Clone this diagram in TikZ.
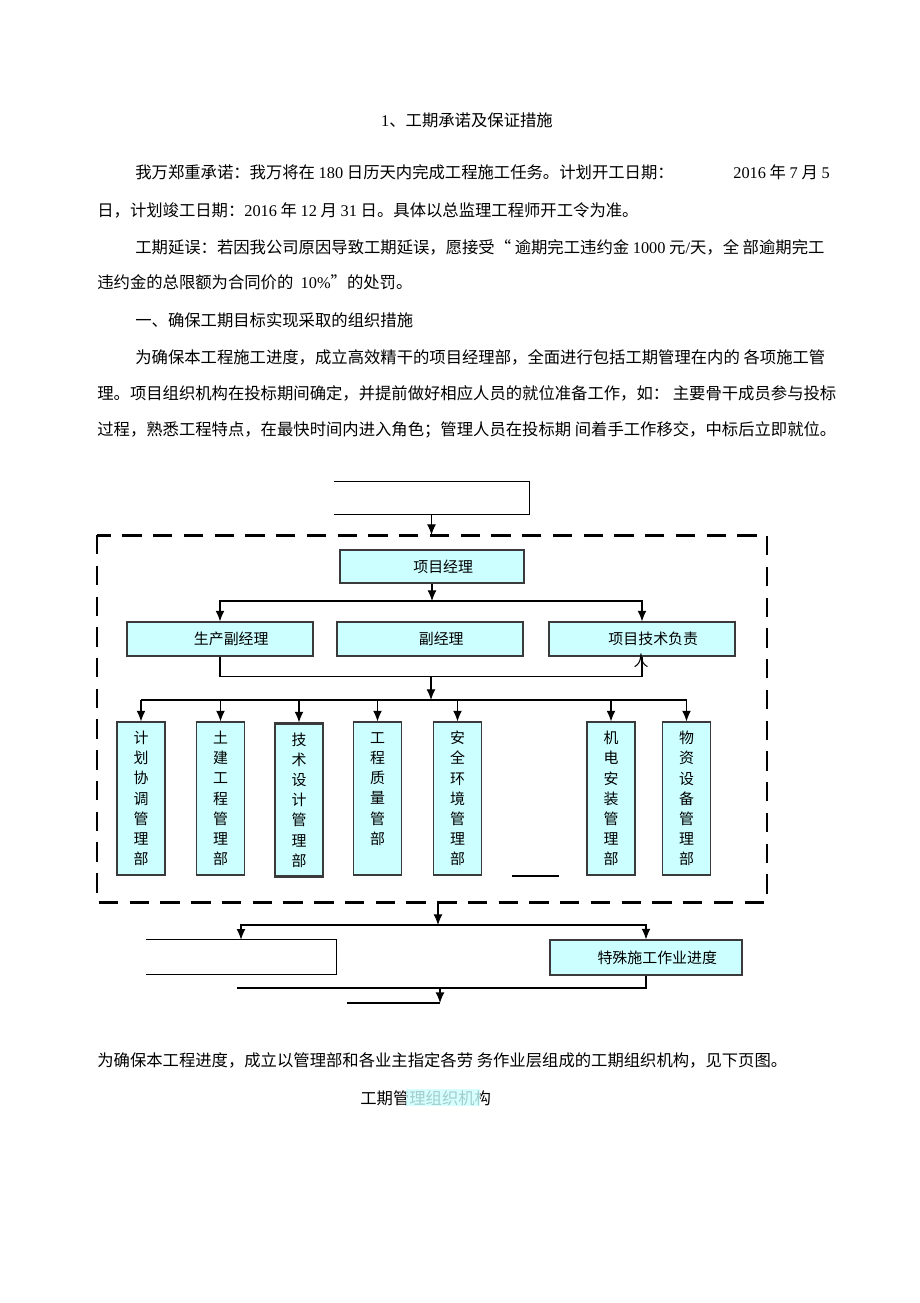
\documentclass[tikz,border=0pt]{standalone}
\usepackage{fontspec}
\setmainfont{Noto Sans CJK SC}
\newfontfamily\latfont{Liberation Serif}
\newcommand\dg[1]{{\latfont #1}}
\usetikzlibrary{arrows.meta,positioning}
\definecolor{boxcyan}{HTML}{CCFFFF}
\definecolor{boxline}{HTML}{3A3A3A}

\begin{document}
\begin{tikzpicture}[x=0.02cm, y=-0.02cm,
    txt/.style={anchor=west, inner sep=0pt, font=\fontsize{9.3pt}{11pt}\selectfont},
    hbox/.style={draw=boxline, fill=boxcyan, line width=0.7pt, minimum width=3.72cm,
                 minimum height=0.68cm, inner sep=0pt, font=\fontsize{8.5pt}{10pt}\selectfont,
                 execute at begin node=\hspace*{0.45cm}},
    vbox/.style={draw=boxline, fill=boxcyan, line width=0.7pt, minimum width=0.96cm,
                 minimum height=3.06cm, inner sep=0pt, align=center,
                 font=\fontsize{8.5pt}{11.5pt}\selectfont},
    openbox/.style={draw=none, minimum width=3.9cm, minimum height=0.66cm, inner sep=0pt},
    arr/.style={-{Latex[length=6pt,width=5pt]}, line width=0.6pt},
    conn/.style={line width=0.6pt},
    frame/.style={line width=1.7pt, dash pattern=on 11pt off 6.5pt}]

    \fill[white] (0,0) rectangle (920,1303);
    \useasboundingbox (0,0) rectangle (920,1303);

    % Text above
    \node[txt, anchor=center] (title) at (467,120) {\dg{1}、工期承诺及保证措施};
    \node[txt] (p1a) at (135,172) {我万郑重承诺：我万将在 \dg{180} 日历天内完成工程施工任务。计划开工日期：};
    \node[txt] (p1b) at (733,172) {\dg{2016} 年 \dg{7} 月 \dg{5}};
    \node[txt] (p2) at (97,210) {日，计划竣工日期：\dg{2016} 年 \dg{12} 月 \dg{31} 日。具体以总监理工程师开工令为准。};
    \node[txt] (p3) at (135,247) {工期延误：若因我公司原因导致工期延误，愿接受“ 逾期完工违约金 \dg{1000} 元\dg{/}天，全 部逾期完工};
    \node[txt] (p4) at (97,282) {违约金的总限额为合同价的 \ \dg{10\%}”的处罚。};
    \node[txt] (p5) at (135,320) {一、确保工期目标实现采取的组织措施};
    \node[txt] (p6) at (135,357) {为确保本工程施工进度，成立高效精干的项目经理部，全面进行包括工期管理在内的 各项施工管};
    \node[txt] (p7) at (97,393) {理。项目组织机构在投标期间确定，并提前做好相应人员的就位准备工作，如： 主要骨干成员参与投标};
    \node[txt] (p8) at (97,430) {过程，熟悉工程特点，在最快时间内进入角色；管理人员在投标期 间着手工作移交，中标后立即就位。};

    % Top box
    \node[openbox] (top) at (431.5,498) {};
    \draw[conn] (top.north west) -- (top.north east) -- (top.south east) -- (top.south west);

    % Frame
    \draw[frame] (97,535) rectangle (767,902);
    \coordinate (frametop) at (431.5,535);
    \draw[arr] (top.south) -- (frametop);

    % Manager
    \node[hbox, minimum width=3.68cm, minimum height=0.66cm] (pm) at (432,566.5) {项目经理};
    \node[hbox] (dep1) at (220,639) {生产副经理};
    \node[hbox] (dep2) at (430,639) {副经理};
    \node[hbox] (dep3) at (642,639) {项目技术负责};
    \node[txt, anchor=center] (dep3b) at (641,661) {\fontsize{8.5pt}{10pt}\selectfont 人};

    \coordinate (bus1) at (432,601);
    \draw[arr] (pm.south) -- (bus1);
    \draw[arr] (bus1) -| (dep1.north);
    \draw[arr] (bus1) -| (dep3.north);

    \draw[conn] (dep1.south) -- ++(0,20) -| (dep3.south);
    \coordinate (bus2) at (431,676);
    \coordinate (bus3) at (431,700);
    \draw[arr] (bus2) -- (bus3);

    % Departments
    \node[vbox] (b1) at (141,798.5) {计\\划\\协\\调\\管\\理\\部};
    \node[vbox] (b2) at (220.5,798.5) {土\\建\\工\\程\\管\\理\\部};
    \node[vbox, line width=1.3pt] (b3) at (299,800) {技\\术\\设\\计\\管\\理\\部};
    \node[vbox] (b4) at (377.5,798.5) {工\\程\\质\\量\\管\\部\\\mbox{}};
    \node[vbox] (b5) at (457.5,798.5) {安\\全\\环\\境\\管\\理\\部};
    \node[vbox] (b6) at (611,798.5) {机\\电\\安\\装\\管\\理\\部};
    \node[vbox] (b7) at (686.5,798.5) {物\\资\\设\\备\\管\\理\\部};

    \draw[conn] (b1.north |- bus3) -- (b7.north |- bus3);
    \foreach \b in {b1,b2,b3,b4,b5,b6,b7}
        \draw[arr] (\b.north |- bus3) -- (\b.north);
    \draw[line width=1pt] (512,876) -- (559,876);

    % Lower part
    \coordinate (framebot) at (438,902);
    \coordinate (bus4) at (438,925);
    \draw[arr] (framebot) -- (bus4);

    \node[openbox, minimum width=3.8cm, minimum height=0.68cm] (lo1) at (241,957) {};
    \draw[conn] (lo1.north west) -- (lo1.north east) -- (lo1.south east) -- (lo1.south west);
    \node[hbox, minimum width=3.84cm, minimum height=0.7cm] (lo2) at (646,957.5) {特殊施工作业进度};

    \draw[arr] (bus4) -| (lo1.north);
    \draw[arr] (bus4) -| (lo2.north);

    \coordinate (bus5) at (440,988);
    \coordinate (bus5l) at (237,988);
    \draw[conn] (lo2.south) |- (bus5l);
    \coordinate (bus6) at (440,1003);
    \coordinate (bus6l) at (347,1003);
    \draw[arr] (bus5) -- (bus6);
    \draw[conn] (bus6l) -- (bus6);

    % Text below
    \node[txt] (p9) at (97,1060) {为确保本工程进度，成立以管理部和各业主指定各劳 务作业层组成的工期组织机构，见下页图。};
    \node[txt] (cap) at (360,1098) {工期管理组织机构};
    \fill[boxcyan, opacity=0.8] (406,1089) rectangle (480,1106);
\end{tikzpicture}
\end{document}
